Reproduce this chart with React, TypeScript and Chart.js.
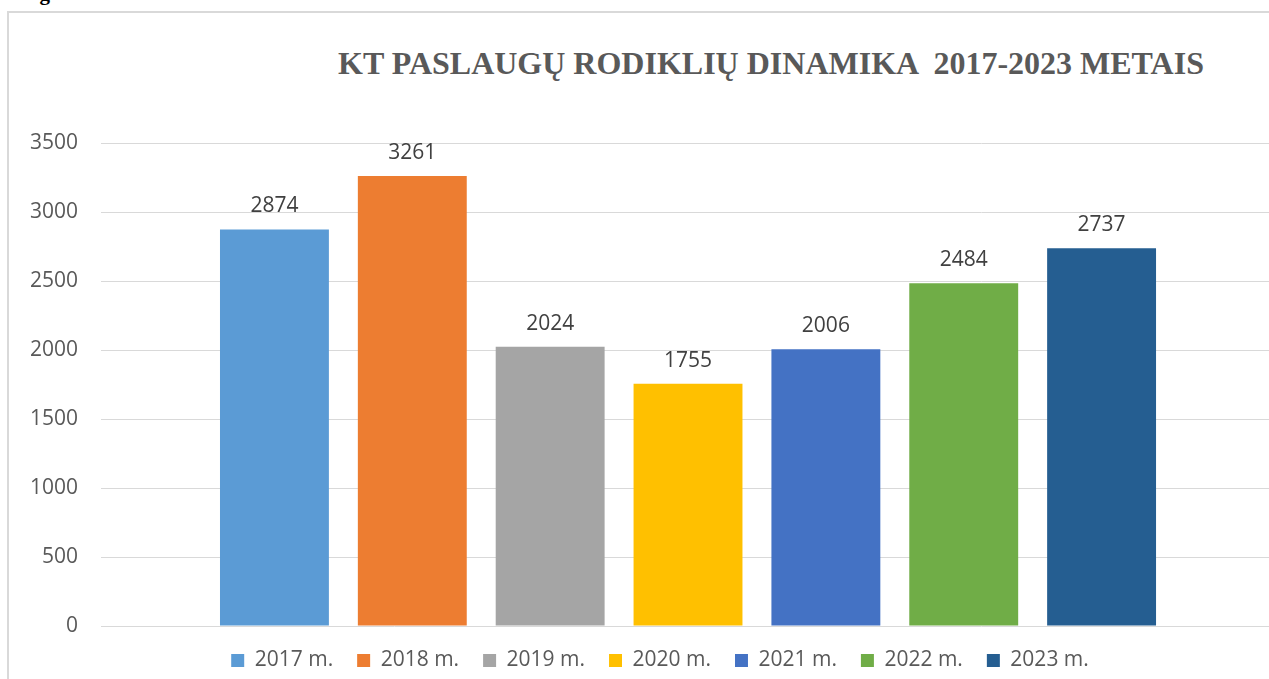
import React, { useEffect, useRef } from "react";
import { Chart, registerables } from "chart.js";

Chart.register(...registerables);

const categories = [""];
const seriesLabels = ["2017 m.", "2018 m.", "2019 m.", "2020 m.", "2021 m.", "2022 m.", "2023 m."];
const seriesValues = [2874, 3261, 2024, 1755, 2006, 2484, 2737];
const seriesColors = ["#5B9BD5", "#ED7D31", "#A5A5A5", "#FFC000", "#4472C4", "#70AD47", "#255E91"];
const yTicks = [0, 500, 1000, 1500, 2000, 2500, 3000, 3500];
const titleText = "KT PASLAUGŲ RODIKLIŲ DINAMIKA  2017-2023 METAIS";
const captionText = "Diagrama 5";

const FONT = "'Open Sans', 'DejaVu Sans', sans-serif";

const valueLabels = {
  id: "valueLabels",
  afterDatasetsDraw(chart: any) {
    const ctx = chart.ctx;
    ctx.save();
    ctx.font = `21px ${FONT}`;
    ctx.fillStyle = "#404040";
    ctx.textAlign = "center";
    ctx.textBaseline = "alphabetic";
    chart.data.datasets.forEach((ds: any, i: number) => {
      const meta = chart.getDatasetMeta(i);
      meta.data.forEach((el: any, j: number) => {
        ctx.fillText(String(ds.data[j]), el.x, el.y - 17);
      });
    });
    ctx.restore();
  },
};

export default function App() {
  const canvasRef = useRef<HTMLCanvasElement | null>(null);

  useEffect(() => {
    if (!canvasRef.current) return;
    const chart = new Chart(canvasRef.current, {
      type: "bar",
      data: {
        labels: categories,
        datasets: seriesLabels.map((label, i) => ({
          label,
          data: [seriesValues[i]],
          backgroundColor: seriesColors[i],
          borderWidth: 0,
          categoryPercentage: 0.822,
          barPercentage: 0.79,
        })),
      },
      options: {
        responsive: false,
        animation: false,
        devicePixelRatio: 1,
        layout: { padding: { left: 7, right: 0, top: 143, bottom: 19 } },
        plugins: {
          title: { display: false },
          tooltip: { enabled: false },
          legend: {
            position: "bottom",
            labels: {
              boxWidth: 13,
              boxHeight: 13,
              padding: 24,
              color: "#595959",
              font: { family: FONT, size: 21 },
            },
          },
        },
        scales: {
          x: { display: false },
          y: {
            min: yTicks[0],
            max: yTicks[yTicks.length - 1],
            afterBuildTicks: (scale: any) => {
              scale.ticks = yTicks.map((v) => ({ value: v }));
            },
            ticks: {
              padding: 23,
              color: "#595959",
              font: { family: FONT, size: 21 },
              callback: (v: any) => String(v),
            },
            grid: { color: "#d9d9d9", lineWidth: 1, drawTicks: false },
            border: { display: false },
          },
          y2: {
            type: "linear",
            position: "right",
            display: true,
            min: yTicks[0],
            max: yTicks[yTicks.length - 1],
            grid: { display: false },
            ticks: { display: false },
            border: { display: false },
            afterFit: (scale: any) => {
              scale.width = 38;
            },
          },
        },
      },
      plugins: [valueLabels],
    });
    return () => chart.destroy();
  }, []);

  return (
    <div
      style={{
        position: "fixed",
        left: 0,
        top: 0,
        width: 1269,
        height: 679,
        overflow: "hidden",
        background: "#ffffff",
      }}
    >
      <div
        style={{
          position: "absolute",
          left: 8,
          top: -19,
          fontFamily: "'Liberation Serif', 'Times New Roman', serif",
          fontWeight: "bold",
          fontSize: 21,
          lineHeight: "24px",
          color: "#000",
          whiteSpace: "pre",
        }}
      >
        {captionText}
      </div>
      <div
        style={{
          position: "absolute",
          left: 7,
          top: 11,
          width: 1400,
          height: 800,
          border: "2px solid #d9d9d9",
          boxSizing: "border-box",
        }}
      />
      <div
        style={{
          position: "absolute",
          left: 0,
          top: 45,
          width: 1542,
          textAlign: "center",
          fontFamily: "'Liberation Serif', 'Times New Roman', serif",
          fontWeight: "bold",
          fontSize: 32,
          lineHeight: "36px",
          color: "#595959",
          whiteSpace: "pre",
        }}
      >
        {titleText}
      </div>
      <canvas
        ref={canvasRef}
        width={1313}
        height={700}
        style={{ position: "absolute", left: 0, top: 0, width: 1313, height: 700 }}
      />
    </div>
  );
}
